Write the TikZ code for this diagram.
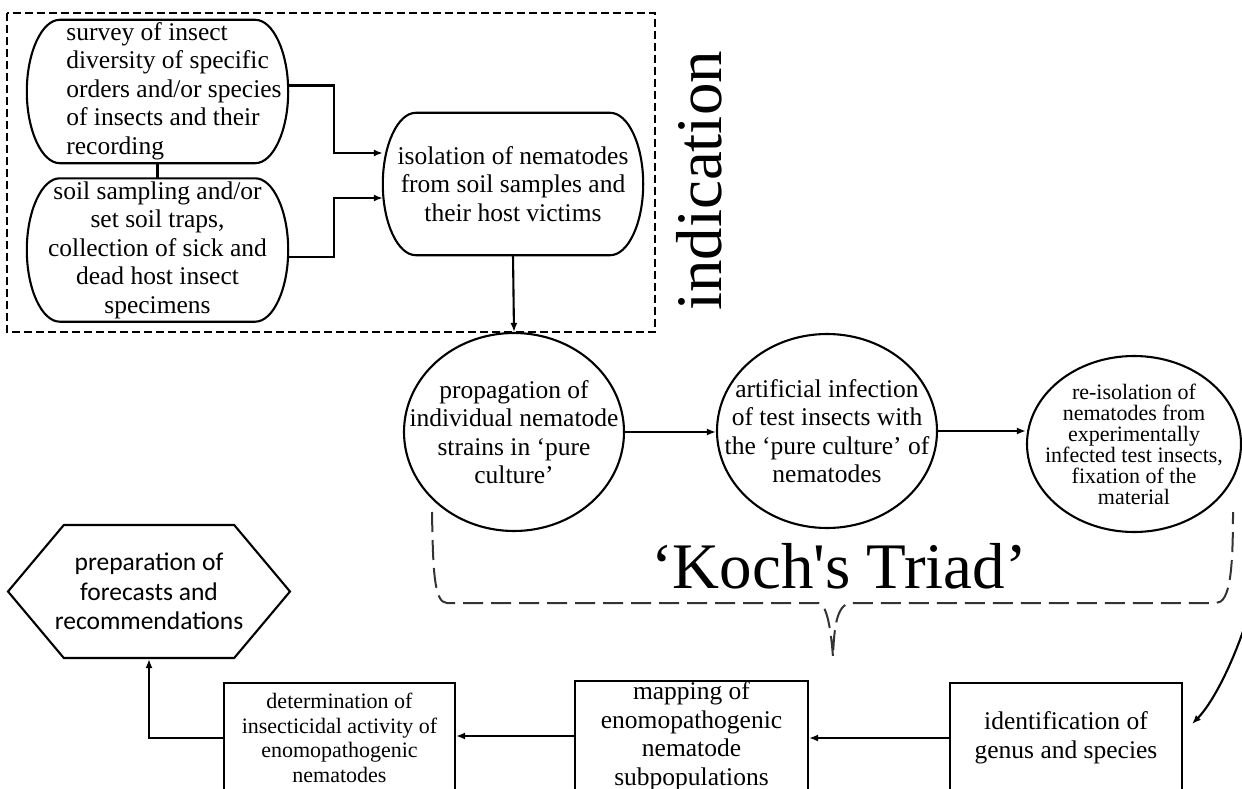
\documentclass[tikz,border=0pt]{standalone}
\usepackage{fontspec}
\setmainfont{Liberation Serif}
\newfontfamily\hexfont{Carlito}
\usetikzlibrary{shapes.geometric,shapes.symbols,arrows.meta,calc}

\newcommand{\bodyfont}{\fontsize{25.5}{28.5}\selectfont}
\newcommand{\reisofont}{\fontsize{22}{21}\selectfont}
\newcommand{\determfont}{\fontsize{22}{24.5}\selectfont}
\newcommand{\bigfont}{\fontsize{65}{70}\selectfont}
% outline with bulging ends round a plain node
\newcommand{\oblong}[1]{%
  \draw[line width=2.1pt] ($(#1.north west)+(33,0)$) -- ($(#1.north east)+(-33,0)$)
    .. controls +(18,0) and +(0,-39) .. (#1.east)
    .. controls +(0,39) and +(18,0) .. ($(#1.south east)+(-33,0)$)
    -- ($(#1.south west)+(33,0)$)
    .. controls +(-18,0) and +(0,39) .. (#1.west)
    .. controls +(0,-39) and +(-18,0) .. ($(#1.north west)+(33,0)$) -- cycle;}

\tikzset{
  roundbox/.style={rectangle, minimum width=261pt, minimum height=143pt, inner sep=0pt, align=center, font=\bodyfont},
  oval/.style={ellipse, draw, line width=2.1pt, inner sep=-30pt, align=center, font=\bodyfont},
  stepbox/.style={rectangle, draw, line width=2.1pt, minimum width=232pt, minimum height=110pt,
    inner sep=0pt, align=center},
  hexbox/.style={signal, signal to=west and east, signal pointer angle=100, draw, line width=2.1pt,
    minimum width=282pt, minimum height=133pt, inner xsep=-12pt, inner ysep=0pt, align=center,
    font=\hexfont\fontsize{25.5}{29.5}\selectfont},
  arr/.style={-{Latex[length=9pt,width=7pt]}, line width=2.1pt},
}

\begin{document}
\begin{tikzpicture}[x=1pt,y=-1pt]
\useasboundingbox (0,0) rectangle (1242,789);
\clip (0,0) rectangle (1242,789);

% indication
\draw[line width=1.8pt, dash pattern=on 8pt off 4pt] (7,13) rectangle (655,332);
\node[roundbox] (survey) at (157.5,91.5) {\hspace*{33pt}\begin{tabular}{@{}l@{}}survey of insect\\diversity of specific\\orders and/or species\\of insects and their\\recording\end{tabular}};
\node[roundbox] (soil) at (157.5,250) {soil sampling and/or\\set soil traps,\\collection of sick and\\dead host insect\\specimens};
\node[roundbox, minimum width=260pt, minimum height=142pt] (iso) at (513,184) {isolation of nematodes\\from soil samples and\\their host victims};
\oblong{survey}
\oblong{soil}
\oblong{iso}
\draw[line width=2.1pt] (survey.south) -- (soil.north);
\draw[arr] (survey.east) ++(0,-6) -- ++(46,0) |- ($(iso.west)+(0,-31)$);
\draw[arr] (soil.east) ++(0,7) -- ++(46,0) |- ($(iso.west)+(0,14)$);
\node[font=\bigfont, rotate=90, anchor=base] (indic) at (721,181) {indication};

% Koch's triad
\node[oval, minimum width=220pt, minimum height=198pt] (prop) at (514,432) {propagation of\\individual nematode\\strains in ‘pure\\culture’};
\node[oval, minimum width=220pt, minimum height=194pt] (art) at (827,431) {artificial infection\\of test insects with\\the ‘pure culture’ of\\nematodes};
\node[oval, minimum width=214pt, minimum height=176pt, font=\reisofont] (reiso) at (1134,444) {re-isolation of\\nematodes from\\experimentally\\infected test insects,\\fixation of the\\material};
\draw[arr] (iso.south) -- (prop.north);
\draw[arr] (prop.east) -- (prop.east -| art.west);
\draw[arr] (art.east) -- (art.east -| reiso.west);
\draw[line width=2pt, black!80, dash pattern=on 20pt off 8pt] (432,512) .. controls (433,570) and (434,603) .. (447,603) -- (819,603)
  .. controls (827,605) and (831,630) .. (833,657) .. controls (834,630) and (836,604) .. (851,603) -- (1216,603)
  .. controls (1230,603) and (1233,570) .. (1233,512);
\node[font=\bigfont, anchor=base] (koch) at (839,588) {‘Koch\textquotesingle s Triad’};

% results
\node[hexbox] (hex) at (149,591.5) {preparation of\\forecasts and\\recommendations};
\node[stepbox, font=\determfont, minimum width=231pt] (determ) at (339.5,738) {determination of\\insecticidal activity of\\enomopathogenic\\nematodes};
\node[stepbox, font=\bodyfont, minimum width=233pt] (mapping) at (691.5,736) {mapping of\\enomopathogenic\\nematode\\subpopulations};
\node[stepbox, font=\bodyfont] (ident) at (1066,738) {identification of\\genus and species};
\coordinate (idtip) at (1192,724);
\draw[arr] (reiso.east) .. controls +(59,56) and +(43,-44) .. (idtip);
\draw[arr] (ident.west) -- (ident.west -| mapping.east);
\draw[arr] (mapping.west) -- (mapping.west -| determ.east);
\draw[arr] (determ.west) -| (hex.south);
\end{tikzpicture}
\end{document}
